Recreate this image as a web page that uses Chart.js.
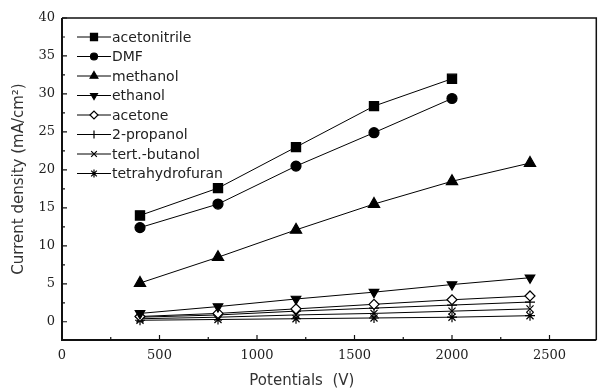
<!DOCTYPE html>
<html>
<head>
<meta charset="utf-8">
<script src="https://cdn.jsdelivr.net/npm/chart.js@4/dist/chart.umd.min.js"></script>
<style>
  html, body { margin: 0; padding: 0; background: #fff; }
  #wrap { width: 604px; height: 392px; }
</style>
</head>
<body>
<div id="wrap"><canvas id="chart"></canvas></div>
<script>
// potentials (V) and current density (mA/cm2) per solvent
const potentials = [400, 800, 1200, 1600, 2000, 2400];
const solvents = ["acetonitrile", "DMF", "methanol", "ethanol", "acetone", "2-propanol", "tert.-butanol", "tetrahydrofuran"];

const acetonitrile = [14.0, 17.6, 23.0, 28.4, 32.0];
const dmf = [12.4, 15.5, 20.5, 24.9, 29.4];
const methanol = [5.1, 8.5, 12.1, 15.5, 18.5, 20.9];
const ethanol = [1.1, 2.0, 3.0, 3.9, 4.9, 5.8];
const acetone = [0.7, 1.1, 1.7, 2.3, 2.9, 3.4];
const propanol2 = [0.6, 0.9, 1.4, 1.8, 2.2, 2.6];
const tertButanol = [0.4, 0.6, 0.9, 1.1, 1.4, 1.7];
const thf = [0.2, 0.3, 0.4, 0.5, 0.6, 0.8];

const xTicks = [0, 500, 1000, 1500, 2000, 2500];
const yTicks = [0, 5, 10, 15, 20, 25, 30, 35, 40];
const xTitle = "Potentials  (V)";
const yTitle = "Current density (mA/cm²)";

const series = [acetonitrile, dmf, methanol, ethanol, acetone, propanol2, tertButanol, thf];
const markers = [
  { style: "rect", rot: 0, r: 6.5, lr: 5, fill: "#000" },
  { style: "circle", rot: 0, r: 5, lr: 3.5, fill: "#000" },
  { style: "triangle", rot: 0, r: 6.5, lr: 4.5, fill: "#000" },
  { style: "triangle", rot: 180, r: 5.5, lr: 4, fill: "#000" },
  { style: "rectRot", rot: 0, r: 5, lr: 4, fill: "#fff" },
  { style: "cross", rot: 0, r: 5, lr: 4, fill: "#fff" },
  { style: "crossRot", rot: 0, r: 5, lr: 4, fill: "#fff" },
  { style: "star", rot: 0, r: 5, lr: 4, fill: "#fff" }
];

const datasets = series.map((vals, i) => ({
  label: solvents[i],
  data: vals.map((v, j) => ({ x: potentials[j], y: v })),
  borderColor: "#000",
  borderWidth: 1,
  pointStyle: markers[i].style,
  rotation: markers[i].rot,
  pointRadius: markers[i].r,
  pointBackgroundColor: markers[i].fill,
  pointBorderColor: "#000",
  pointBorderWidth: 1.2,
  tension: 0
}));

function minorOf(ticks, max) {
  const out = [];
  for (let i = 0; i < ticks.length; i++) {
    const step = i < ticks.length - 1 ? ticks[i + 1] - ticks[i] : ticks[i] - ticks[i - 1];
    const m = ticks[i] + step / 2;
    if (m < max) out.push(m);
  }
  return out;
}

const framePlugin = {
  id: "frame",
  afterDraw(c) {
    const { ctx, chartArea: a, scales: { x, y } } = c;
    ctx.save();
    ctx.strokeStyle = "#111";
    ctx.lineWidth = 1.5;
    ctx.beginPath();
    ctx.moveTo(a.left, a.top); ctx.lineTo(a.right, a.top); ctx.lineTo(a.right, a.bottom);
    ctx.stroke();
    ctx.lineWidth = 2;
    ctx.beginPath();
    ctx.moveTo(a.left, a.top); ctx.lineTo(a.left, a.bottom); ctx.lineTo(a.right, a.bottom);
    ctx.stroke();

    // inward ticks
    ctx.lineWidth = 1.2;
    ctx.beginPath();
    yTicks.forEach(v => { const p = y.getPixelForValue(v); ctx.moveTo(a.left, p); ctx.lineTo(a.left + 5, p); });
    minorOf(yTicks, y.max).forEach(v => { const p = y.getPixelForValue(v); ctx.moveTo(a.left, p); ctx.lineTo(a.left + 3, p); });
    xTicks.forEach(v => { const p = x.getPixelForValue(v); ctx.moveTo(p, a.bottom); ctx.lineTo(p, a.bottom - 5); });
    minorOf(xTicks, x.max).forEach(v => { const p = x.getPixelForValue(v); ctx.moveTo(p, a.bottom); ctx.lineTo(p, a.bottom - 3); });
    ctx.stroke();

    // x title, sits a bit left of the plot centre like the original
    ctx.font = '15px "DejaVu Sans"';
    ctx.fillStyle = "#333";
    ctx.textAlign = "center";
    ctx.textBaseline = "middle";
    ctx.fillText(xTitle, x.getPixelForValue(1230), 381);

    // legend
    ctx.textAlign = "left";
    ctx.font = '14px "DejaVu Sans"';
    c.data.datasets.forEach((ds, i) => {
      const ly = a.top + 19 + i * 19.5;
      const lx = a.left + 15;
      ctx.strokeStyle = "#000";
      ctx.lineWidth = 1;
      ctx.beginPath(); ctx.moveTo(lx, ly); ctx.lineTo(lx + 34, ly); ctx.stroke();
      if (Chart.helpers && Chart.helpers.drawPoint) {
        ctx.fillStyle = markers[i].fill;
        ctx.lineWidth = 1.2;
        Chart.helpers.drawPoint(ctx, {
          pointStyle: markers[i].style,
          rotation: markers[i].rot,
          radius: markers[i].lr,
          borderWidth: 1.2
        }, lx + 17, ly);
      }
      ctx.fillStyle = "#222";
      ctx.fillText(ds.label, lx + 35, ly + 1);
    });
    ctx.restore();
  }
};

new Chart(document.getElementById("chart"), {
  type: "line",
  data: { datasets },
  plugins: [framePlugin],
  options: {
    responsive: true,
    maintainAspectRatio: false,
    animation: false,
    layout: { padding: { top: 18, right: 1, left: 0, bottom: 2 } },
    plugins: { legend: { display: false }, tooltip: { enabled: false } },
    scales: {
      x: {
        type: "linear",
        min: 0,
        max: 2740,
        afterBuildTicks: s => { s.ticks = xTicks.map(v => ({ value: v })); },
        afterFit: s => { s.height = 50; },
        grid: { display: false, drawTicks: false },
        border: { display: false },
        ticks: { padding: 8, color: "#222", font: { family: '"DejaVu Serif"', size: 13 }, callback: v => String(v) },
        title: { display: false }
      },
      y: {
        type: "linear",
        min: -2.4,
        max: 40,
        afterBuildTicks: s => { s.ticks = yTicks.map(v => ({ value: v })); },
        afterFit: s => { s.width = 62; },
        grid: { display: false, drawTicks: false },
        border: { display: false },
        ticks: { padding: 7, color: "#222", font: { family: '"DejaVu Serif"', size: 13 }, callback: v => String(v) },
        title: { display: true, text: yTitle, color: "#333", padding: { top: 10, bottom: 0 }, font: { family: '"DejaVu Sans"', size: 15 } }
      }
    }
  }
});
</script>
</body>
</html>
